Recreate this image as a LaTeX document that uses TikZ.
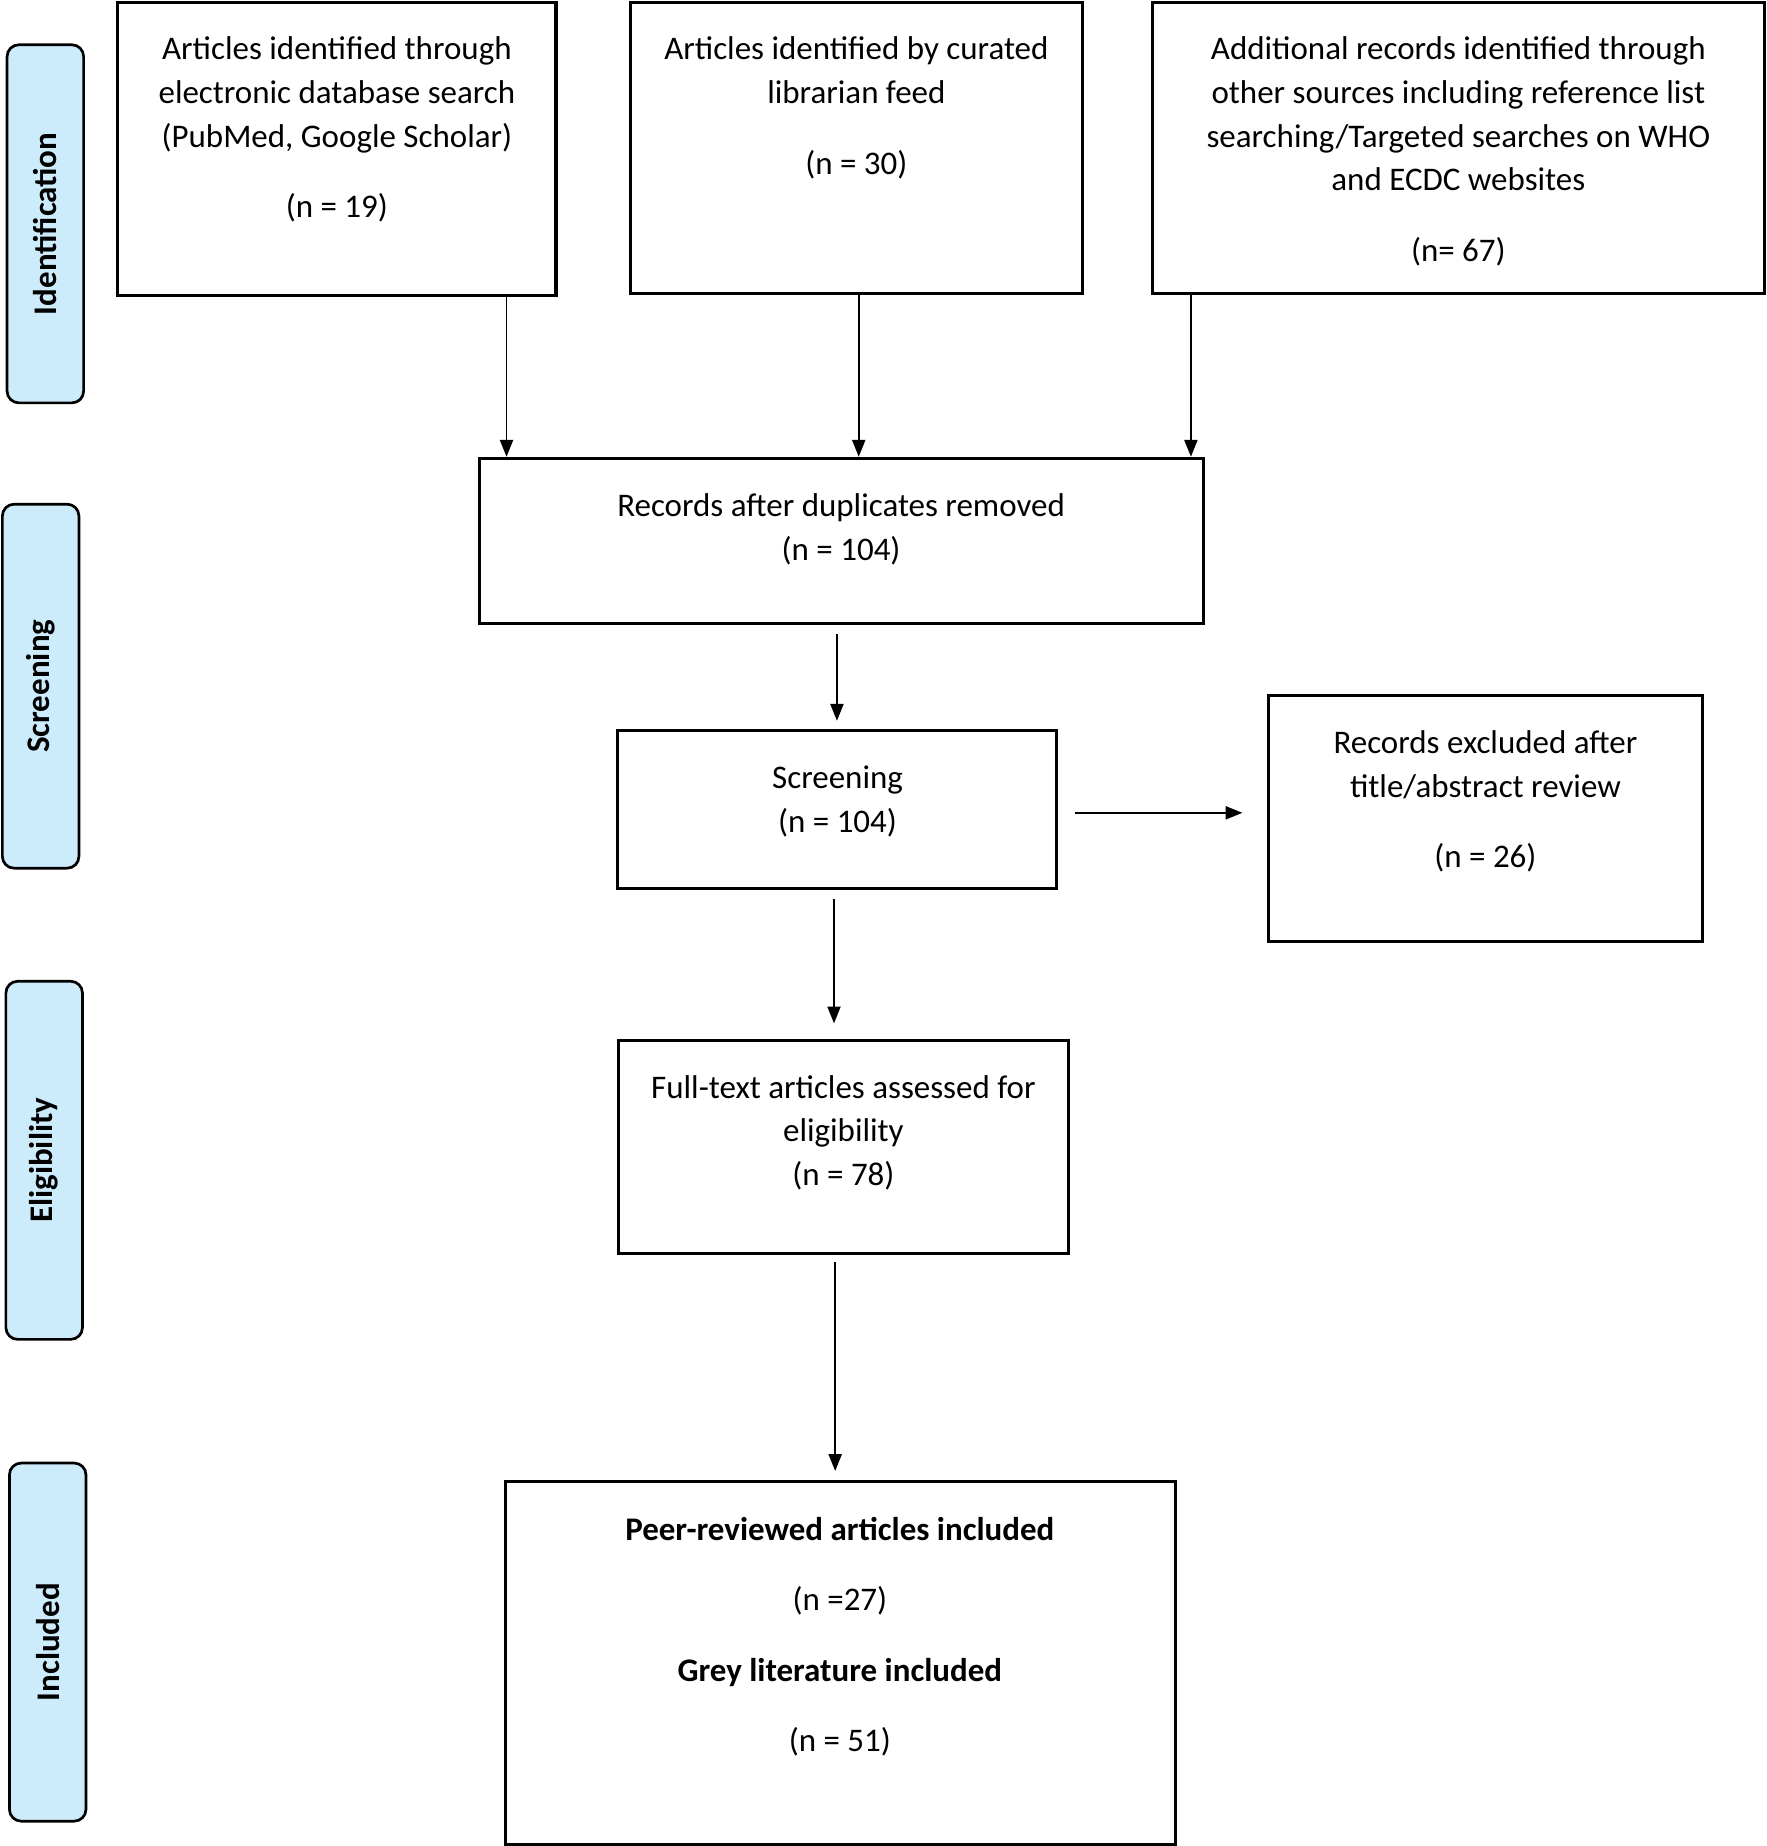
\documentclass[tikz,border=0pt]{standalone}
\usepackage{fontspec}
\setmainfont{Carlito}
\usetikzlibrary{arrows.meta}
\definecolor{stagefill}{RGB}{204,235,251}
\begin{document}
\begin{tikzpicture}[x=0.35pt,y=-0.35pt,
  box/.style={draw, line width=0.9pt, inner sep=0pt},
  txt/.style={align=center, font=\fontsize{9.8}{12.95}\selectfont, inner sep=0pt},
  stage/.style={draw, line width=0.8pt, fill=stagefill, rounded corners=3.5pt, inner sep=0pt,
    rotate=90, font=\fontsize{9.8}{12}\selectfont\bfseries,
    minimum width={304*0.35pt}, minimum height={65*0.35pt}},
  arr/.style={-{Triangle[length=5pt,width=3.9pt]}, line width=0.5pt}]
\useasboundingbox (0,0) rectangle (1500,1567.1);

% stage labels
\node[stage] (s1) at (38.5,190) {Identification};
\node[stage, minimum width={309*0.35pt}] (s2) at (34.5,582.5) {Screening};
\node[stage] (s3) at (37.5,985) {Eligibility};
\node[stage] (s4) at (40.5,1394) {Included};

% boxes
\node[box, minimum width={372*0.35pt}, minimum height={249*0.35pt}] (b1) at (286,126.5) {};
\node[box, minimum width={384*0.35pt}, minimum height={247*0.35pt}] (b2) at (727,125.5) {};
\node[box, minimum width={520*0.35pt}, minimum height={247*0.35pt}] (b3) at (1238,125.5) {};
\node[box, minimum width={615*0.35pt}, minimum height={140*0.35pt}] (b4) at (714.5,459) {};
\node[box, minimum width={373*0.35pt}, minimum height={134*0.35pt}] (b5) at (710.5,687) {};
\node[box, minimum width={368*0.35pt}, minimum height={209*0.35pt}] (b6) at (1261,694.5) {};
\node[box, minimum width={382*0.35pt}, minimum height={181*0.35pt}] (b7) at (716,973.5) {};
\node[box, minimum width={569*0.35pt}, minimum height={308*0.35pt}] (b8) at (713.5,1412) {};

% texts
\node[txt] (t1) at (286,110) {Articles identified through\\electronic database search\\(PubMed, Google Scholar)\\[8pt](n = 19)};
\node[txt] (t2) at (727,91.5) {Articles identified by curated\\librarian feed\\[8pt](n = 30)};
\node[txt] (t3) at (1238,128.5) {Additional records identified through\\other sources including reference list\\searching/Targeted searches on WHO\\and ECDC websites\\[8pt](n= 67)};
\node[txt] (t4) at (714,449.5) {Records after duplicates removed\\(n = 104)};
\node[txt] (t5) at (711,680.5) {Screening\\(n = 104)};
\node[txt] (t6) at (1261,680.5) {Records excluded after\\title/abstract review\\[8pt](n = 26)};
\node[txt] (t7) at (716,961.5) {Full-text articles assessed for\\eligibility\\(n = 78)};
\node[txt] (t8) at (713,1389.5) {\textbf{Peer-reviewed articles included}\\[8pt](n =27)\\[8pt]\textbf{Grey literature included}\\[8pt](n = 51)};

% connector helpers
\coordinate (x1) at (430,0);
\coordinate (x2) at (729,0);
\coordinate (x3) at (1011,0);
\coordinate (x4) at (710.5,0);
\coordinate (y5) at (0,690);
\coordinate (x6) at (708,0);
\coordinate (x7) at (709,0);

\draw[arr] (b1.south -| x1) -- (b4.north -| x1);
\draw[arr] (b2.south -| x2) -- (b4.north -| x2);
\draw[arr] (b3.south -| x3) -- (b4.north -| x3);
\draw[arr, shorten <=2.8pt, shorten >=2.4pt] (b4.south -| x4) -- (b5.north -| x4);
\draw[arr, shorten <=4.9pt, shorten >=7.35pt] (b5.east |- y5) -- (b6.west |- y5);
\draw[arr, shorten <=2.8pt, shorten >=4.55pt] (b5.south -| x6) -- (b7.north -| x6);
\draw[arr, shorten <=2.1pt, shorten >=2.8pt] (b7.south -| x7) -- (b8.north -| x7);
\end{tikzpicture}
\end{document}
